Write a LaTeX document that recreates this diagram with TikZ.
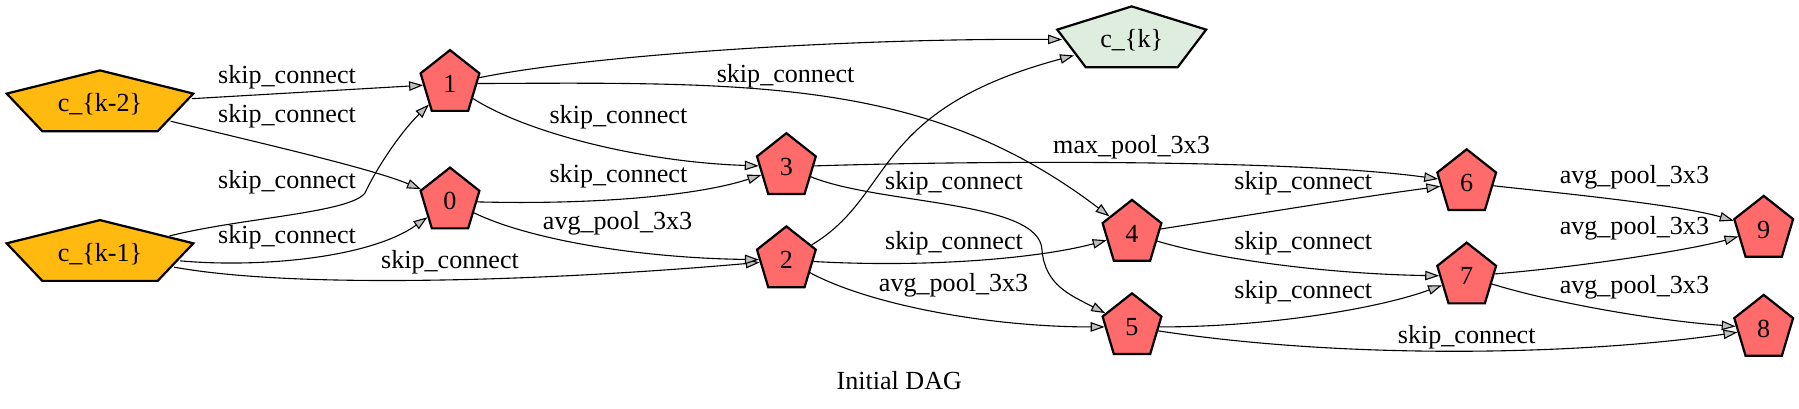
\documentclass[tikz,border=0pt]{standalone}
\usepackage{fontspec}
\setmainfont{Liberation Serif}
\usetikzlibrary{shapes.geometric,arrows.meta}
\definecolor{inputfill}{RGB}{255,185,15}
\definecolor{opfill}{RGB}{255,106,106}
\definecolor{outfill}{RGB}{222,237,222}
\definecolor{arrowgray}{RGB}{192,192,192}

\begin{document}
\begin{tikzpicture}[x=1pt, y=-1pt,
    pent/.style={regular polygon, regular polygon sides=5, minimum size=67.2pt,
      inner sep=0pt, draw, line width=2.2pt, xscale=#1, transform shape},
    txt/.style={font=\fontsize{26.1}{31}\selectfont, inner sep=0pt},
    edge/.style={line width=1.1pt, -{Triangle[length=14pt, width=9.5pt, fill=arrowgray]}}]
\useasboundingbox (0,0) rectangle (1799,409);

% Pentagons
\node[pent=2.92, fill=inputfill] (ck2) at (100,104) {};
\node[pent=2.92, fill=inputfill] (ck1) at (100,253.7) {};
\node[pent=2.33, fill=outfill] (ck) at (1131.7,40) {};
\node[pent=0.92, fill=opfill] (n0) at (450,201.2) {};
\node[pent=0.92, fill=opfill] (n1) at (450,83.7) {};
\node[pent=0.92, fill=opfill] (n2) at (786.4,260) {};
\node[pent=0.92, fill=opfill] (n3) at (786.4,166.8) {};
\node[pent=0.92, fill=opfill] (n4) at (1132,233.5) {};
\node[pent=0.92, fill=opfill] (n5) at (1132,326.9) {};
\node[pent=0.92, fill=opfill] (n6) at (1466.7,182.9) {};
\node[pent=0.92, fill=opfill] (n7) at (1466.7,276.2) {};
\node[pent=0.92, fill=opfill] (n8) at (1763.7,328.5) {};
\node[pent=0.92, fill=opfill] (n9) at (1763.7,229.5) {};

% Node names
\foreach \n/\t in {ck2/c\_\{k-2\}, ck1/c\_\{k-1\}, ck/c\_\{k\}, n0/0, n1/1, n2/2,
    n3/3, n4/4, n5/5, n6/6, n7/7, n8/8, n9/9}
  \node[txt] (\n-name) at (\n) {\t};

% Edges
\draw[edge] (ck2) -- (n1);
\draw[edge] (ck2) .. controls (260,143) and (370,168) .. (n0);
\draw[edge] (ck1) .. controls (240,218) and (350,213) .. (365,193)
  .. controls (373,175) and (397,136) .. (n1);
\draw[edge] (ck1) .. controls (260,268) and (370,258) .. (n0);
\draw[edge] (ck1) .. controls (300,290) and (560,280) .. (n2);
\draw[edge] (n1) .. controls (590,55) and (850,38) .. (ck);
\draw[edge] (n1) .. controls (760,82) and (930,80) .. (n4);
\draw[edge] (n1) .. controls (525,132) and (640,162) .. (n3);
\draw[edge] (n0) .. controls (600,205) and (700,195) .. (n3);
\draw[edge] (n0) .. controls (530,240) and (640,258) .. (n2);
\draw[edge] (n2) .. controls (895,195) and (870,110) .. (ck);
\draw[edge] (n3) .. controls (1000,160) and (1300,160) .. (n6);
\draw[edge] (n3) .. controls (880,205) and (1040,200) .. (1042,250)
  .. controls (1045,285) and (1070,295) .. (n5);
\draw[edge] (n2) .. controls (930,268) and (1040,258) .. (n4);
\draw[edge] (n2) .. controls (870,305) and (990,327) .. (n5);
\draw[edge] (n4) .. controls (1250,215) and (1360,197) .. (n6);
\draw[edge] (n4) .. controls (1220,260) and (1330,274) .. (n7);
\draw[edge] (n5) .. controls (1270,327) and (1380,308) .. (n7);
\draw[edge] (n5) .. controls (1350,360) and (1580,355) .. (n8);
\draw[edge] (n6) .. controls (1560,193) and (1680,205) .. (n9);
\draw[edge] (n7) .. controls (1580,267) and (1690,250) .. (n9);
\draw[edge] (n7) .. controls (1550,302) and (1650,320) .. (n8);

% Edge labels
\node[txt] (l1) at (287,77.3) {skip\_connect};
\node[txt] (l2) at (287,116.7) {skip\_connect};
\node[txt] (l3) at (287,182.5) {skip\_connect};
\node[txt] (l4) at (287,237) {skip\_connect};
\node[txt] (l5) at (450,262.5) {skip\_connect};
\node[txt] (l6) at (785.6,76) {skip\_connect};
\node[txt] (l7) at (618.4,117.5) {skip\_connect};
\node[txt] (l8) at (618.4,176) {skip\_connect};
\node[txt] (l9) at (617.6,223.5) {avg\_pool\_3x3};
\node[txt] (l10) at (1131.5,147.5) {max\_pool\_3x3};
\node[txt] (l11) at (954,183.5) {skip\_connect};
\node[txt] (l12) at (954,243.5) {skip\_connect};
\node[txt] (l13) at (953.6,285) {avg\_pool\_3x3};
\node[txt] (l14) at (1303.3,183.5) {skip\_connect};
\node[txt] (l15) at (1303.3,243.5) {skip\_connect};
\node[txt] (l16) at (1303.3,292.5) {skip\_connect};
\node[txt] (l17) at (1466.7,337) {skip\_connect};
\node[txt] (l18) at (1634.4,177) {avg\_pool\_3x3};
\node[txt] (l19) at (1634.4,228.5) {avg\_pool\_3x3};
\node[txt] (l20) at (1634.4,287.5) {avg\_pool\_3x3};

% Caption
\node[txt] (title) at (899.3,380.7) {Initial DAG};
\end{tikzpicture}
\end{document}
